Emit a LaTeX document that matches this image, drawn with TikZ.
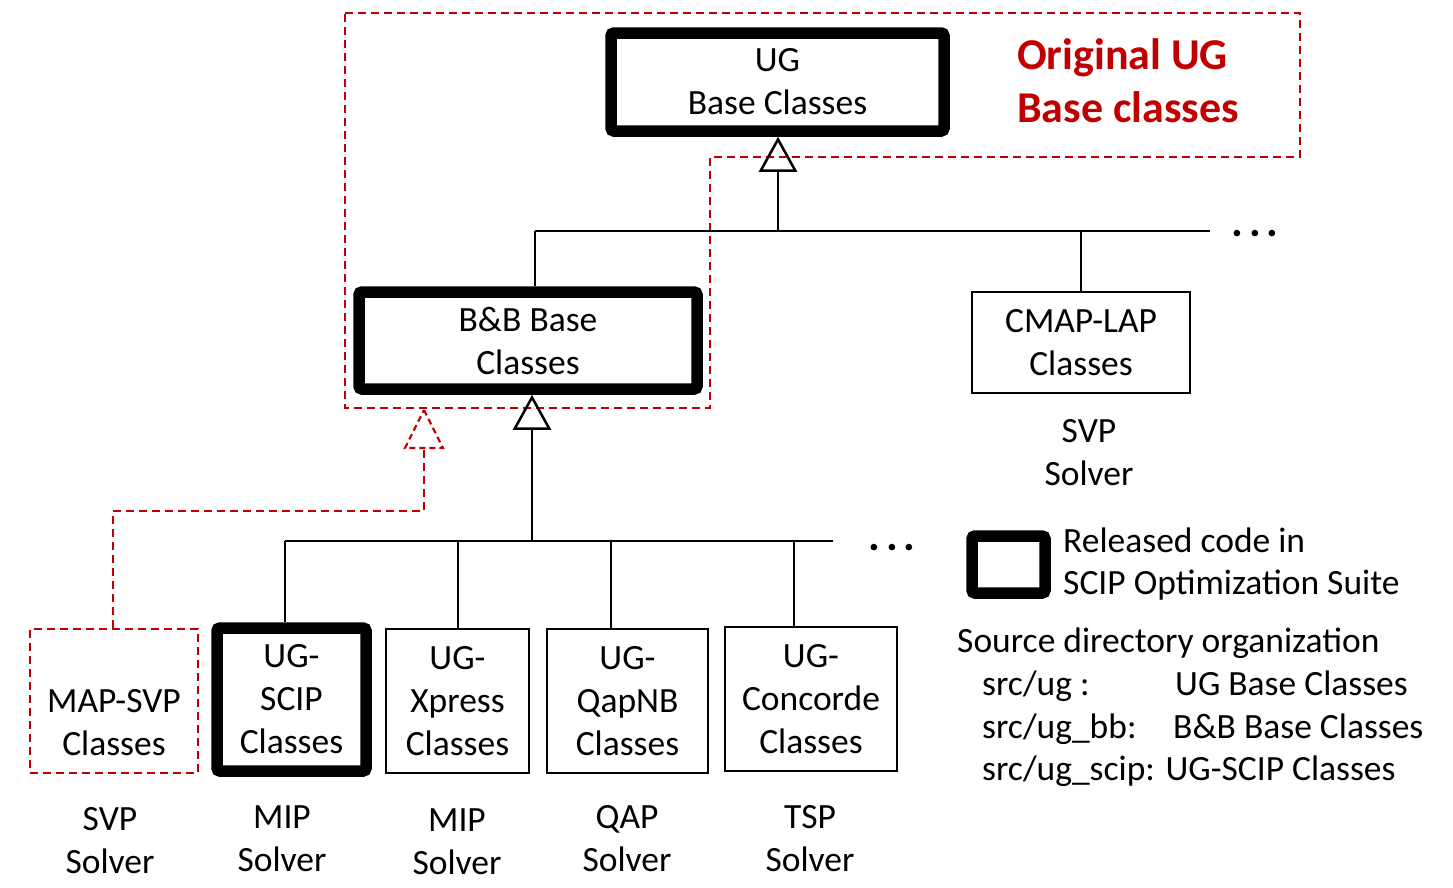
\documentclass[tikz,border=0pt]{standalone}
\usepackage{fontspec}
\setmainfont{Carlito}
\usetikzlibrary{arrows.meta}
\definecolor{dred}{RGB}{192,0,0}
\begin{document}
\begin{tikzpicture}[x=1pt,y=-1pt,
  txt/.style={font=\fontsize{35.5}{43}\selectfont, align=center, inner sep=0pt},
  thickbox/.style={txt, draw, line width=11.5pt, rounded corners=3pt},
  thinbox/.style={txt, draw, line width=2pt},
  redbox/.style={txt, draw=dred, line width=2.2pt, dash pattern=on 8pt off 5pt},
  conn/.style={line width=2.5pt},
  reddash/.style={draw=dred, line width=2.2pt, dash pattern=on 8pt off 5pt},
  inh/.style={-{Triangle[open, length=35pt, width=38pt, line width=2.5pt]}},
  dotstyle/.style={inner sep=0pt, anchor=base, font=\fontsize{44}{50}\selectfont\bfseries}
]
\useasboundingbox (0,0) rectangle (1453,887);

% original UG region
\draw[reddash] (345,13) -- (1300,13) -- (1300,157) -- (710,157) -- (710,408) -- (345,408) -- cycle;

% boxes
\node[thickbox, minimum width=333pt, minimum height=98pt] (ug) at (777.5,82) {UG\\Base Classes};
\node[thickbox, minimum width=338pt, minimum height=97pt] (bb) at (528,340.5) {B\&B Base\\Classes};
\node[thinbox, minimum width=218pt, minimum height=101pt] (cmap) at (1081,342.5) {CMAP-LAP\\Classes};
\node[txt] (svp1) at (1089,453) {SVP\\Solver};

\node[redbox, minimum width=168pt, minimum height=144pt] (mapsvp) at (114,701) {\rule{0pt}{24pt}\\MAP-SVP\\Classes};
\node[thickbox, minimum width=149pt, minimum height=143pt] (scip) at (291.5,699.5) {UG-\\SCIP\\Classes};
\node[thinbox, minimum width=143pt, minimum height=144pt] (xpress) at (457.5,701) {UG-\\Xpress\\Classes};
\node[thinbox, minimum width=161pt, minimum height=144pt] (qap) at (627.5,701) {UG-\\QapNB\\Classes};
\node[thinbox, minimum width=172pt, minimum height=144pt] (conc) at (811,699) {UG-\\Concorde\\Classes};

% solver labels
\node[txt] (l1) at (110,841) {SVP\\Solver};
\node[txt] (l2) at (282,839) {MIP\\Solver};
\node[txt] (l3) at (457,842) {MIP\\Solver};
\node[txt] (l4) at (627,839) {QAP\\Solver};
\node[txt] (l5) at (810,839) {TSP\\Solver};

% top level connectors
\coordinate (b1l) at (535,231);
\coordinate (b1r) at (1210,231);
\coordinate (b1m) at (778,231);
\draw[conn] (b1l) -- (b1r);
\draw[conn, inh] (b1m) -- (b1m |- ug.south);
\draw[conn] (b1l) -- (b1l |- bb.north);
\draw[conn] (cmap.north |- b1l) -- (cmap.north);
\node[dotstyle] (dots1) at (1255,236) {.\kern6pt.\kern6pt.};

% second level connectors
\coordinate (b2l) at (285,541);
\coordinate (b2r) at (833,541);
\coordinate (b2m) at (532,541);
\coordinate (b2x) at (458,541);
\coordinate (b2q) at (611,541);
\coordinate (b2c) at (794,541);
\draw[conn] (b2l) -- (b2r);
\draw[conn, inh] (b2m) -- (b2m |- bb.south);
\draw[conn] (b2l) -- (b2l |- scip.north);
\draw[conn] (b2x) -- (b2x |- xpress.north);
\draw[conn] (b2q) -- (b2q |- qap.north);
\draw[conn] (b2c) -- (b2c |- conc.north);
\node[dotstyle] (dots2) at (892,550) {.\kern6pt.\kern6pt.};

% red dashed extension connector
\coordinate (r1) at (113,511);
\coordinate (r2) at (424,511);
\coordinate (r3) at (424,448);
\coordinate (rtip) at (424,410);
\draw[reddash] (mapsvp.north -| r1) -- (r1) -- (r2) -- (r3);
\draw[reddash, dash pattern=on 6pt off 4pt, line join=miter] (rtip) -- (443,448) -- (405,448) -- cycle;

% title
\node[anchor=base west, align=left, inner sep=0pt, text=dred, font=\fontsize{44}{53}\selectfont\bfseries] (orig) at (1017,122) {Original UG\\Base classes};

% legend
\node[draw, line width=11.5pt, rounded corners=3pt, minimum width=73pt, minimum height=57pt, inner sep=0pt] (leg) at (1008.5,564.5) {};
\node[txt, anchor=base west, align=left, font=\fontsize{35.5}{42}\selectfont] (legtxt) at (1063,594) {Released code in\\SCIP Optimization Suite};
\node[txt, anchor=base west] (src) at (957,652) {Source directory organization};
\node[txt, anchor=base west] (s1) at (982,695) {src/ug :};
\node[txt, anchor=base west] (s1b) at (1175,695) {UG Base Classes};
\node[txt, anchor=base west] (s2) at (982,738) {src/ug\_bb:};
\node[txt, anchor=base west] (s2b) at (1173,738) {B\&B Base Classes};
\node[txt, anchor=base west] (s3) at (982,780) {src/ug\_scip: UG-SCIP Classes};
\end{tikzpicture}
\end{document}
